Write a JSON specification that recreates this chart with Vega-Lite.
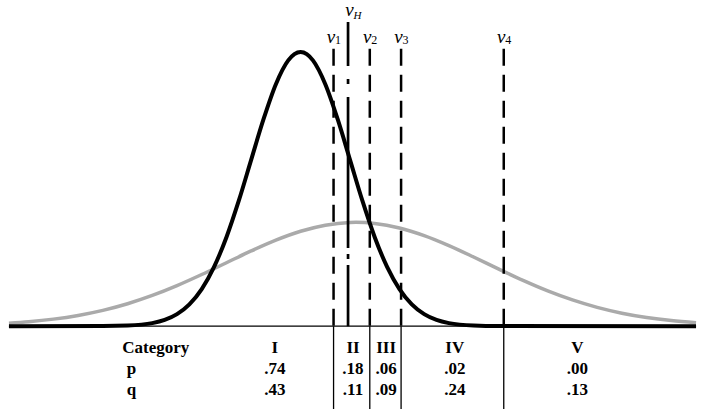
{
  "$schema": "https://vega.github.io/schema/vega-lite/v6.json",
  "width": 704,
  "height": 415,
  "autosize": {"type": "fit", "contains": "padding"},
  "padding": 0,
  "background": "white",
  "config": {"view": {"stroke": null}},
  "datasets": {
    "black": [
      {"x": -5.9, "d": 0}, {"x": -4, "d": 0.00013}, {"x": -3.5, "d": 0.00087}, {"x": -3, "d": 0.00443},
      {"x": -2.75, "d": 0.00909}, {"x": -2.5, "d": 0.0175}, {"x": -2.25, "d": 0.0317}, {"x": -2, "d": 0.054},
      {"x": -1.75, "d": 0.0863}, {"x": -1.5, "d": 0.1295}, {"x": -1.25, "d": 0.1826}, {"x": -1, "d": 0.242},
      {"x": -0.75, "d": 0.3011}, {"x": -0.5, "d": 0.3521}, {"x": -0.25, "d": 0.3867}, {"x": -0.125, "d": 0.3958},
      {"x": 0, "d": 0.3989}, {"x": 0.125, "d": 0.3958}, {"x": 0.25, "d": 0.3867}, {"x": 0.5, "d": 0.3521},
      {"x": 0.75, "d": 0.3011}, {"x": 1, "d": 0.242}, {"x": 1.25, "d": 0.1826}, {"x": 1.5, "d": 0.1295},
      {"x": 1.75, "d": 0.0863}, {"x": 2, "d": 0.054}, {"x": 2.25, "d": 0.0317}, {"x": 2.5, "d": 0.0175},
      {"x": 2.75, "d": 0.00909}, {"x": 3, "d": 0.00443}, {"x": 3.5, "d": 0.00087}, {"x": 4, "d": 0.00013},
      {"x": 8.0, "d": 0}
    ],
    "gray": [
      {"x": -5.9, "d": 0.0044}, {"x": -5.5, "d": 0.00651}, {"x": -5, "d": 0.01029}, {"x": -4.5, "d": 0.01567},
      {"x": -4, "d": 0.02304}, {"x": -3.5, "d": 0.03268}, {"x": -3, "d": 0.04471}, {"x": -2.5, "d": 0.05902},
      {"x": -2, "d": 0.07516}, {"x": -1.5, "d": 0.09235}, {"x": -1, "d": 0.10945}, {"x": -0.5, "d": 0.12517},
      {"x": 0, "d": 0.1381}, {"x": 0.5, "d": 0.14699}, {"x": 1, "d": 0.15094}, {"x": 1.12, "d": 0.1511},
      {"x": 1.5, "d": 0.14954}, {"x": 2, "d": 0.14294}, {"x": 2.5, "d": 0.1318}, {"x": 3, "d": 0.11726},
      {"x": 3.5, "d": 0.10064}, {"x": 4, "d": 0.08334}, {"x": 4.5, "d": 0.06658}, {"x": 5, "d": 0.05131},
      {"x": 5.5, "d": 0.03816}, {"x": 6, "d": 0.02737}, {"x": 6.5, "d": 0.01894}, {"x": 7, "d": 0.01265},
      {"x": 7.5, "d": 0.00815}, {"x": 8.0, "d": 0.00506}
    ],
    "cuts": [
      {"name": "v1", "sub": "1", "x": 0.667},
      {"name": "vH", "sub": "H", "x": 0.96},
      {"name": "v2", "sub": "2", "x": 1.4},
      {"name": "v3", "sub": "3", "x": 2.033},
      {"name": "v4", "sub": "4", "x": 4.11}
    ],
    "table": [
      {"row": "Category", "x": -2.93, "label": "Category"},
      {"row": "Category", "x": -0.52, "label": "I"},
      {"row": "Category", "x": 1.06, "label": "II"},
      {"row": "Category", "x": 1.73, "label": "III"},
      {"row": "Category", "x": 3.12, "label": "IV"},
      {"row": "Category", "x": 5.6, "label": "V"},
      {"row": "p", "x": -3.42, "label": "p"},
      {"row": "p", "x": -0.52, "label": ".74"},
      {"row": "p", "x": 1.06, "label": ".18"},
      {"row": "p", "x": 1.73, "label": ".06"},
      {"row": "p", "x": 3.12, "label": ".02"},
      {"row": "p", "x": 5.6, "label": ".00"},
      {"row": "q", "x": -3.42, "label": "q"},
      {"row": "q", "x": -0.52, "label": ".43"},
      {"row": "q", "x": 1.06, "label": ".11"},
      {"row": "q", "x": 1.73, "label": ".09"},
      {"row": "q", "x": 3.12, "label": ".24"},
      {"row": "q", "x": 5.6, "label": ".13"}
    ]
  },
  "layer": [
    {
      "layer": [
        {
          "data": {"name": "gray"},
          "mark": {"type": "line", "color": "#aaaaaa", "strokeWidth": 3.5, "interpolate": "monotone"},
          "encoding": {
            "x": {"field": "x", "type": "quantitative", "scale": {"domain": [-6, 8.08], "nice": false, "zero": false}, "axis": null},
            "y": {"field": "d", "type": "quantitative", "scale": {"domain": [-0.1292, 0.4731], "nice": false, "zero": false}, "axis": null}
          }
        },
        {
          "data": {"name": "black"},
          "mark": {"type": "line", "color": "black", "strokeWidth": 4, "interpolate": "monotone"},
          "encoding": {
            "x": {"field": "x", "type": "quantitative", "scale": {"domain": [-6, 8.08], "nice": false, "zero": false}, "axis": null},
            "y": {"field": "d", "type": "quantitative", "scale": {"domain": [-0.1292, 0.4731], "nice": false, "zero": false}, "axis": null}
          }
        },
        {
          "data": {"values": [{}]},
          "mark": {"type": "rule", "color": "black", "strokeWidth": 1.3},
          "encoding": {
            "x": {"datum": -5.9, "type": "quantitative", "scale": {"domain": [-6, 8.08], "nice": false, "zero": false}, "axis": null},
            "x2": {"datum": 8.0},
            "y": {"datum": 0, "type": "quantitative", "scale": {"domain": [-0.1292, 0.4731], "nice": false, "zero": false}, "axis": null}
          }
        },
        {
          "data": {"name": "cuts"},
          "transform": [{"filter": "datum.name != 'vH'"}],
          "mark": {"type": "rule", "color": "black", "strokeWidth": 2.5, "strokeDash": [17, 9]},
          "encoding": {
            "x": {"field": "x", "type": "quantitative", "scale": {"domain": [-6, 8.08], "nice": false, "zero": false}, "axis": null},
            "y": {"datum": 0.4035, "type": "quantitative", "scale": {"domain": [-0.1292, 0.4731], "nice": false, "zero": false}, "axis": null},
            "y2": {"datum": 0}
          }
        },
        {
          "data": {"name": "cuts"},
          "transform": [{"filter": "datum.name == 'vH'"}],
          "mark": {"type": "rule", "color": "black", "strokeWidth": 2.7, "strokeDash": [44, 13, 5, 13, 151, 6, 5, 6, 80]},
          "encoding": {
            "x": {"field": "x", "type": "quantitative", "scale": {"domain": [-6, 8.08], "nice": false, "zero": false}, "axis": null},
            "y": {"datum": 0.4427, "type": "quantitative", "scale": {"domain": [-0.1292, 0.4731], "nice": false, "zero": false}, "axis": null},
            "y2": {"datum": 0}
          }
        },
        {
          "data": {"name": "cuts"},
          "transform": [{"filter": "datum.name != 'vH'"}],
          "mark": {"type": "rule", "color": "black", "strokeWidth": 1.3},
          "encoding": {
            "x": {"field": "x", "type": "quantitative", "scale": {"domain": [-6, 8.08], "nice": false, "zero": false}, "axis": null},
            "y": {"datum": 0, "type": "quantitative", "scale": {"domain": [-0.1292, 0.4731], "nice": false, "zero": false}, "axis": null},
            "y2": {"datum": -0.1205}
          }
        },
        {
          "data": {"name": "cuts"},
          "transform": [{"filter": "datum.name != 'vH'"}],
          "mark": {"type": "text", "text": "v", "font": "Liberation Serif", "fontStyle": "italic", "fontSize": 19, "baseline": "alphabetic", "align": "center", "dx": -2.5, "color": "black"},
          "encoding": {
            "x": {"field": "x", "type": "quantitative", "scale": {"domain": [-6, 8.08], "nice": false, "zero": false}, "axis": null},
            "y": {"datum": 0.4122, "type": "quantitative", "scale": {"domain": [-0.1292, 0.4731], "nice": false, "zero": false}, "axis": null}
          }
        },
        {
          "data": {"name": "cuts"},
          "transform": [{"filter": "datum.name != 'vH'"}],
          "mark": {"type": "text", "font": "Liberation Serif", "fontSize": 12, "baseline": "alphabetic", "align": "center", "dx": 4.5, "dy": 1.5, "color": "black"},
          "encoding": {
            "x": {"field": "x", "type": "quantitative", "scale": {"domain": [-6, 8.08], "nice": false, "zero": false}, "axis": null},
            "y": {"datum": 0.4122, "type": "quantitative", "scale": {"domain": [-0.1292, 0.4731], "nice": false, "zero": false}, "axis": null},
            "text": {"field": "sub"}
          }
        },
        {
          "data": {"name": "cuts"},
          "transform": [{"filter": "datum.name == 'vH'"}],
          "mark": {"type": "text", "text": "v", "font": "Liberation Serif", "fontStyle": "italic", "fontSize": 19, "baseline": "alphabetic", "align": "center", "dx": 1.5, "color": "black"},
          "encoding": {
            "x": {"field": "x", "type": "quantitative", "scale": {"domain": [-6, 8.08], "nice": false, "zero": false}, "axis": null},
            "y": {"datum": 0.4514, "type": "quantitative", "scale": {"domain": [-0.1292, 0.4731], "nice": false, "zero": false}, "axis": null}
          }
        },
        {
          "data": {"name": "cuts"},
          "transform": [{"filter": "datum.name == 'vH'"}],
          "mark": {"type": "text", "font": "Liberation Serif", "fontStyle": "italic", "fontSize": 11, "baseline": "alphabetic", "align": "center", "dx": 9.5, "dy": 3.4, "color": "black"},
          "encoding": {
            "x": {"field": "x", "type": "quantitative", "scale": {"domain": [-6, 8.08], "nice": false, "zero": false}, "axis": null},
            "y": {"datum": 0.4514, "type": "quantitative", "scale": {"domain": [-0.1292, 0.4731], "nice": false, "zero": false}, "axis": null},
            "text": {"field": "sub"}
          }
        }
      ]
    },
    {
      "data": {"name": "table"},
      "mark": {"type": "text", "font": "Liberation Serif", "fontWeight": "bold", "fontSize": 17, "baseline": "alphabetic", "align": "center", "color": "black"},
      "encoding": {
        "x": {"field": "x", "type": "quantitative", "scale": {"domain": [-6, 8.08], "nice": false, "zero": false}, "axis": null},
        "y": {"field": "row", "type": "ordinal", "scale": {"type": "point", "domain": ["Category", "p", "q"], "range": [352, 394], "padding": 0}, "axis": null},
        "text": {"field": "label"}
      }
    }
  ],
  "resolve": {"scale": {"y": "independent"}}
}
